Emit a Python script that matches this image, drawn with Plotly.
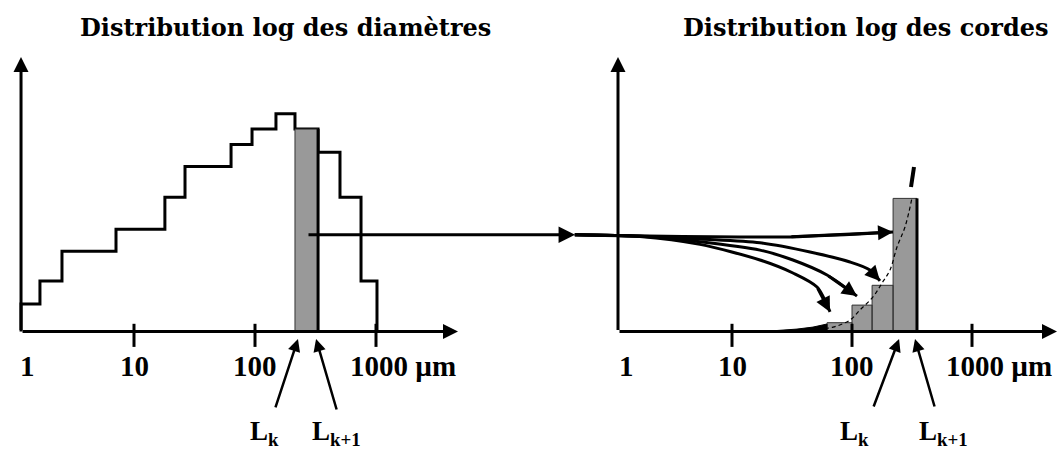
import numpy as np
import plotly.graph_objects as go

# ---------------- data ----------------
# left panel : log distribution of diameters (class edges in µm, frequencies in arbitrary units)
diam_edges = [1.165, 1.67, 2.54, 7.1, 18.0, 26.4, 63.4, 94.5, 149, 214, 332, 504, 752, 1019]
diam_freq = [12.5, 23, 36.5, 46.5, 61, 75, 85, 92, 99, 92, 81.5, 61, 23]
Lk_diam, Lk1_diam, h_diam_class = 214, 332, 92      # highlighted class [Lk, Lk+1]

# right panel : log distribution of chords produced by that class
chord_edges = [62, 100, 147, 220, 348]
chord_freq = [4, 12, 21, 60.5]

# theoretical chord density (dashed curve) and its asymptote mark
density_x = [30.4, 44.7, 69.4, 96.2, 116.6, 149.6, 177.8, 207.4, 237.1, 276.5, 316.2]
density_y = [0.2, 0.7, 2.0, 5.2, 9.8, 15.7, 22.0, 28.0, 38.4, 47.5, 60.7]
asym_x = [310.2, 328.6]
asym_y = [65.7, 74.8]
tail_x = [18.1, 34.8, 47.3, 61.9, 61.9, 18.1]
tail_y = [0, 1.1, 2.0, 3.4, 0, 0]

# fan of arrows distributing the class into chord classes (right-panel coordinates)
fan_x = [
    [0.49, 1.71, 30.4, 219.6],
    [0.49, 1.71, 5.41, 17.1, 44.7, 96.2, 141, 171],
    [0.49, 1.71, 5.41, 17.1, 32.2, 61.9, 110],
    [0.49, 1.71, 5.41, 17.1, 32.2, 51.1, 65.6],
]
fan_y = [
    [44, 43.4, 43.0, 45.2],
    [44, 43.4, 42.0, 40.3, 36.1, 31.6, 28.0, 23.0],
    [44, 43.3, 40.8, 37.0, 32.5, 25.7, 16.1],
    [44, 43.2, 39.6, 32.5, 26.6, 20.2, 8.9],
]
main_arrow_x = [269, 44150]   # left-panel coordinates
main_arrow_y = 44

# axes
tick_vals = [1, 10, 100, 1000]
tick_text = ["1", "10", "100", "1000 µm"]
left_axis_x = [1.165, 4760]
right_axis_x = [1.122, 5110]
y_axis_top = 124.8
titles = ["Distribution log des diamètres", "Distribution log des cordes"]

# ---------------- figure ----------------
W, H = 1064, 453
BLACK = "#000000"
GRAY = "#999999"
fig = go.Figure()

# left step outline
ox = [diam_edges[0]] + diam_edges[:-1] + [diam_edges[-1], diam_edges[-1]]
oy = [0] + diam_freq + [diam_freq[-1], 0]
fig.add_trace(go.Scatter(x=ox, y=oy, mode="lines", line=dict(color=BLACK, width=3, shape="hv"),
                         xaxis="x", yaxis="y", hoverinfo="skip"))
# highlighted class
fig.add_trace(go.Scatter(x=[Lk_diam, Lk_diam, Lk1_diam, Lk1_diam, Lk_diam],
                         y=[0, h_diam_class, h_diam_class, 0, 0], mode="lines", fill="toself",
                         fillcolor=GRAY, line=dict(color="#333333", width=1),
                         xaxis="x", yaxis="y", hoverinfo="skip"))
fig.add_trace(go.Scatter(x=[Lk1_diam, Lk1_diam], y=[0, h_diam_class], mode="lines",
                         line=dict(color=BLACK, width=3), xaxis="x", yaxis="y", hoverinfo="skip"))

# right bars
bx, by = [], []
for i, h in enumerate(chord_freq):
    a, b = chord_edges[i], chord_edges[i + 1]
    bx += [a, a, b, b, a, None]
    by += [0, h, h, 0, 0, None]
fig.add_trace(go.Scatter(x=bx, y=by, mode="lines", fill="toself", fillcolor=GRAY,
                         line=dict(color="#333333", width=1), xaxis="x2", yaxis="y", hoverinfo="skip"))
fig.add_trace(go.Scatter(x=[chord_edges[-1], chord_edges[-1]], y=[0, chord_freq[-1]], mode="lines",
                         line=dict(color=BLACK, width=3), xaxis="x2", yaxis="y", hoverinfo="skip"))

# density curve, asymptote mark, tail wedge
fig.add_trace(go.Scatter(x=density_x, y=density_y, mode="lines",
                         line=dict(color=BLACK, width=1.2, dash="4px,3px", shape="spline"),
                         xaxis="x2", yaxis="y", hoverinfo="skip"))
fig.add_trace(go.Scatter(x=asym_x, y=asym_y, mode="lines", line=dict(color=BLACK, width=4),
                         xaxis="x2", yaxis="y", hoverinfo="skip"))
fig.add_trace(go.Scatter(x=tail_x, y=tail_y, mode="lines", fill="toself", fillcolor=BLACK,
                         line=dict(color=BLACK, width=1), xaxis="x2", yaxis="y", hoverinfo="skip"))

# fan curves
for fx, fy in zip(fan_x, fan_y):
    fig.add_trace(go.Scatter(x=fx, y=fy, mode="lines",
                             line=dict(color=BLACK, width=3, shape="spline", smoothing=0.8),
                             xaxis="x2", yaxis="y", hoverinfo="skip"))

# ticks
for ax_name in ["x", "x2"]:
    tx, ty = [], []
    for v in tick_vals[1:]:
        tx += [v, v, None]
        ty += [3.5, -7, None]
    fig.add_trace(go.Scatter(x=tx, y=ty, mode="lines", line=dict(color=BLACK, width=3),
                             xaxis=ax_name, yaxis="y", hoverinfo="skip"))

ann = []
L = np.log10


def arrow(xref, x, y, ax, ay, width=3, size=1.0, head=2):
    return dict(xref=xref, yref="y", axref=xref, ayref="y", x=L(x), y=y, ax=L(ax), ay=ay,
                showarrow=True, arrowhead=head, arrowwidth=width, arrowsize=size,
                arrowcolor=BLACK, standoff=0, startstandoff=0, text="")


# axes with arrowheads
for xref, axx in [("x", left_axis_x), ("x2", right_axis_x)]:
    ann.append(arrow(xref, axx[1], 0, axx[0], 0))
    ann.append(arrow(xref, axx[0], y_axis_top, axx[0], 0))

# main arrow from the highlighted class to the chord panel
ann.append(arrow("x", main_arrow_x[1], main_arrow_y, main_arrow_x[0], main_arrow_y, size=1.1))

# fan arrowheads
for fx, fy in zip(fan_x, fan_y):
    ann.append(arrow("x2", fx[-1], fy[-1], fx[-2], fy[-2]))

# tick labels
TF = dict(family="Liberation Serif", size=29, color=BLACK)
for xref in ["x", "x2"]:
    for v, t in zip(tick_vals, tick_text):
        shift = 14 if v == 1 else (27 if v == 1000 else 0)
        ann.append(dict(xref=xref, yref="y", x=L(v), y=-15.7, text="<b>%s</b>" % t, showarrow=False,
                        xanchor="center", yanchor="middle", xshift=shift, font=TF))

# L_k labels and arrows
LF = dict(family="Liberation Serif", size=27, color=BLACK)
lab_y = (331.5 - 452) / 2.2
tip_y = -3.4
for xref, lk, lk1, sh in [("x", Lk_diam, Lk1_diam, (-47, -8, 3, -2, (-23, 70), (21, 72))),
                          ("x2", chord_edges[-2], chord_edges[-1], (-55, 0, 6, -2, (-26, 69), (20, 69)))]:
    ann.append(dict(xref=xref, yref="y", x=L(lk), y=lab_y, text="<b>L<sub>k</sub></b>", showarrow=False,
                    xanchor="left", yanchor="bottom", xshift=sh[0], font=LF))
    ann.append(dict(xref=xref, yref="y", x=L(lk1), y=lab_y, text="<b>L<sub>k+1</sub></b>", showarrow=False,
                    xanchor="left", yanchor="bottom", xshift=sh[1], font=LF))
    ann.append(dict(xref=xref, yref="y", x=L(lk), y=tip_y, xshift=sh[2], ax=sh[4][0], ay=sh[4][1],
                    axref="pixel", ayref="pixel", showarrow=True, arrowhead=2, arrowwidth=2.5,
                    arrowsize=1, arrowcolor=BLACK, standoff=0, text=""))
    ann.append(dict(xref=xref, yref="y", x=L(lk1), y=tip_y, xshift=sh[3], ax=sh[5][0], ay=sh[5][1],
                    axref="pixel", ayref="pixel", showarrow=True, arrowhead=2, arrowwidth=2.5,
                    arrowsize=1, arrowcolor=BLACK, standoff=0, text=""))

# titles
TT = dict(family="DejaVu Serif", size=24, color=BLACK)
for cx, t in zip([285, 865.5], titles):
    ann.append(dict(xref="paper", yref="paper", x=cx / W, y=1 - 28 / H, text="<b>%s</b>" % t,
                    showarrow=False, xanchor="center", yanchor="middle", font=TT))

fig.update_layout(
    width=W, height=H, margin=dict(l=0, r=0, t=0, b=0, pad=0),
    paper_bgcolor="white", plot_bgcolor="white", showlegend=False,
    xaxis=dict(type="log", range=[-13 / 121, 1051 / 121], domain=[0, 1], visible=False, fixedrange=True),
    xaxis2=dict(type="log", range=[-612 / 120, 452 / 120], domain=[0, 1], visible=False,
                overlaying="x", anchor="y", fixedrange=True),
    yaxis=dict(range=[(331.5 - 453) / 2.2, 331.5 / 2.2], domain=[0, 1], visible=False, fixedrange=True),
    annotations=ann,
)

fig.write_html("out.html", config={"displayModeBar": False},
               post_script="document.body.style.margin='0';document.body.style.overflow='hidden';")
